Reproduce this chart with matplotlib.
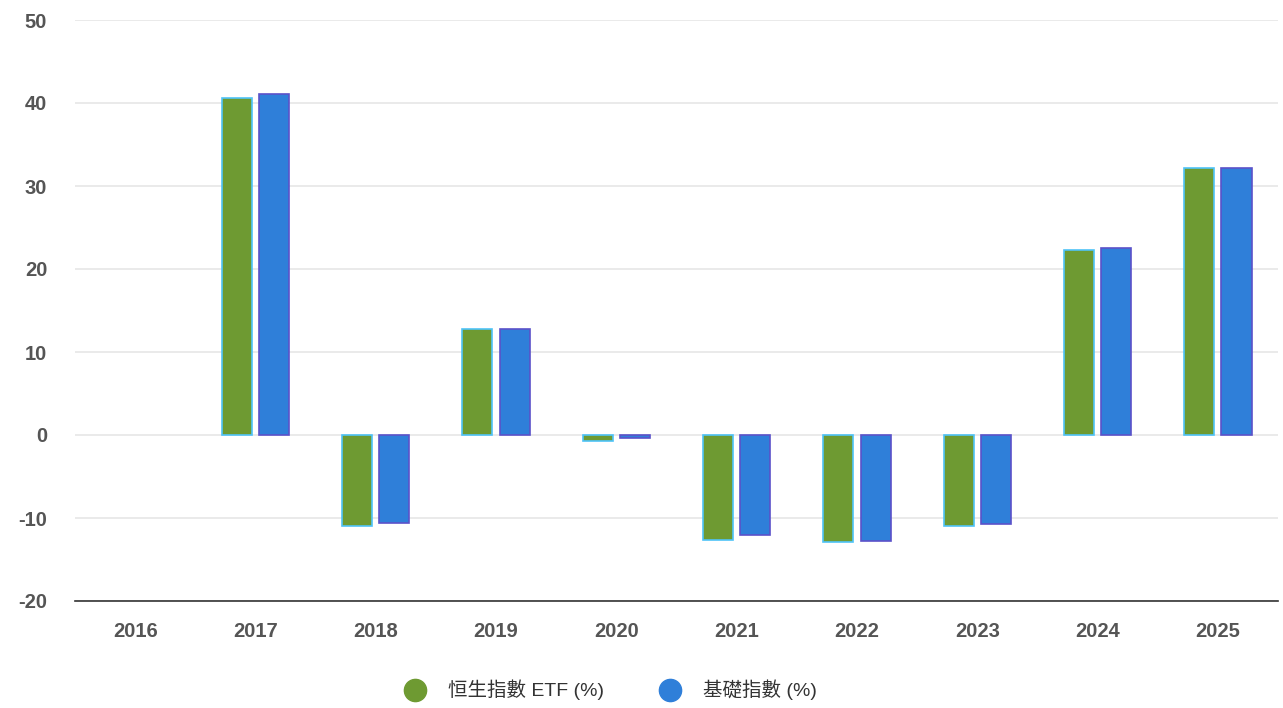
import numpy as np
import matplotlib.pyplot as plt

plt.rcParams['font.family'] = ['Liberation Sans', 'Noto Sans CJK TC', 'DejaVu Sans']
plt.rcParams['axes.unicode_minus'] = False

years = ['2016', '2017', '2018', '2019', '2020', '2021', '2022', '2023', '2024', '2025']
etf = [np.nan, 40.6, -11.0, 12.8, -0.7, -12.7, -12.9, -11.0, 22.3, 32.2]
index = [np.nan, 41.1, -10.6, 12.8, -0.4, -12.0, -12.8, -10.7, 22.5, 32.2]
labels = ['恒生指數 ETF (%)', '基礎指數 (%)']

fig = plt.figure(figsize=(12.83, 7.08), dpi=100)
ax = fig.add_axes([75 / 1283, 1 - 601 / 708, 1203 / 1283, 581 / 708])

x = np.arange(len(years))
w = 0.25
ax.bar(x - 0.155, etf, w, color='#6e9a32', edgecolor='#4fc3f7', linewidth=1.2, label=labels[0])
ax.bar(x + 0.155, index, w, color='#2f7fd9', edgecolor='#5b52c9', linewidth=1.2, label=labels[1])

ax.set_xlim(-0.5, len(years) - 0.5)
ax.set_ylim(-20, 50)
ax.set_yticks(range(-20, 51, 10))
ax.set_xticks(x)
ax.set_xticklabels(years)
ax.grid(axis='y', color='#e6e6e6', linewidth=1.2)
ax.set_axisbelow(True)
for s in ['top', 'right', 'left']:
    ax.spines[s].set_visible(False)
ax.spines['bottom'].set_color('#333333')
ax.spines['bottom'].set_linewidth(1.2)
ax.tick_params(axis='both', length=0, labelsize=14.5, labelcolor='#555555')
ax.tick_params(axis='x', pad=15)
ax.tick_params(axis='y', pad=20)
for t in ax.get_xticklabels() + ax.get_yticklabels():
    t.set_fontweight('bold')

handles = [plt.Line2D([], [], marker='o', linestyle='', markersize=16, color=c) for c in ['#6e9a32', '#2f7fd9']]
fig.legend(handles, labels, loc='center', bbox_to_anchor=(606 / 1283, 1 - 690 / 708), ncol=2,
           frameon=False, fontsize=14, handletextpad=0.7, columnspacing=2.4,
           labelcolor='#333333')

fig.savefig('out.png', dpi=100)
